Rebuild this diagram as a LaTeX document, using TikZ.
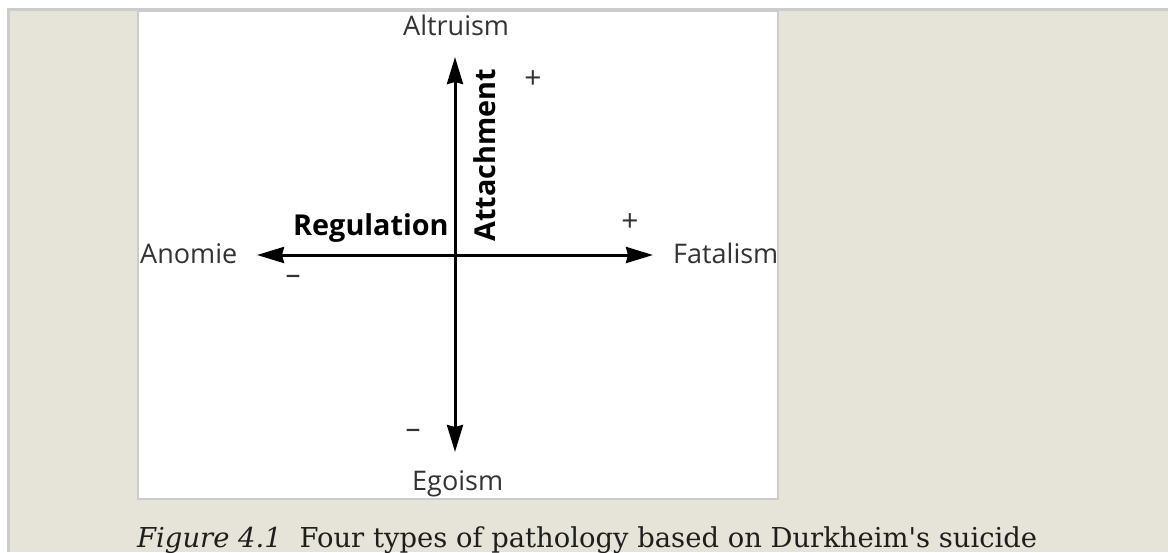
\documentclass[tikz,border=0pt]{standalone}
\usepackage{fontspec}
\setmainfont{DejaVu Serif}
\newfontfamily\labfont{Open Sans}
\usetikzlibrary{arrows.meta}
\definecolor{beige}{HTML}{E6E4D8}
\definecolor{edge}{HTML}{CCCCCC}
\definecolor{labgray}{HTML}{333333}
\definecolor{capblack}{HTML}{1E1E1E}
\tikzset{
  lab/.style={font=\labfont\fontsize{27}{30}\selectfont, text=labgray, inner sep=0pt},
  boldlab/.style={font=\labfont\bfseries\fontsize{28.8}{32}\selectfont, text=black, inner sep=0pt},
  sign/.style={font=\labfont\fontsize{30}{32}\selectfont, text=labgray, inner sep=0pt},
  axis/.style={line width=3pt, black, {Stealth[length=27pt,width=16pt,inset=2pt]}-{Stealth[length=27pt,width=16pt,inset=2pt]}},
  captext/.style={font=\fontsize{27.4}{31}\selectfont, text=capblack, inner sep=0pt}
}
\begin{document}
\begin{tikzpicture}[x=1pt,y=-1pt]
\useasboundingbox (0,0) rectangle (1168,552);
\fill[white] (0,0) rectangle (1168,552);
\fill[edge] (7,8) rectangle (1168,552);
\fill[beige] (10,11) rectangle (1168,552);
\fill[edge] (137,11) rectangle (779,500);
\fill[white] (139,12) rectangle (777,498);
% axes end points
\coordinate (top) at (455,57);
\coordinate (bot) at (455,452);
\coordinate (left) at (257,255);
\coordinate (right) at (653,255);
\draw[axis] (bot) -- (top);
\draw[axis] (left) -- (right);
% labels
\node[lab, anchor=base west] (altr) at (403,35) {Altruism};
\node[lab, anchor=base west] (ego) at (412,490) {Egoism};
\node[lab, anchor=base west] (anom) at (140,263) {Anomie};
\begin{scope}
\clip (139,12) rectangle (777,498);
\node[lab, anchor=base west] (fat) at (673,263) {Fatalism};
\end{scope}
\node[boldlab, anchor=base west] (reg) at (293,235) {Regulation};
\node[boldlab, anchor=base west, rotate=90] (att) at (495,242) {Attachment};
% signs
\node[sign] (p1) at (533,80) {+};
\node[sign] (p2) at (630,223) {+};
\node[sign] (m1) at (293,280) {–};
\node[sign] (m2) at (413,434) {–};
% caption
\node[captext, anchor=base west] (caption) at (137,547) {\textit{Figure 4.1}\hspace{0.65em}Four types of pathology based on Durkheim\textquotesingle s suicide};
\end{tikzpicture}
\end{document}
